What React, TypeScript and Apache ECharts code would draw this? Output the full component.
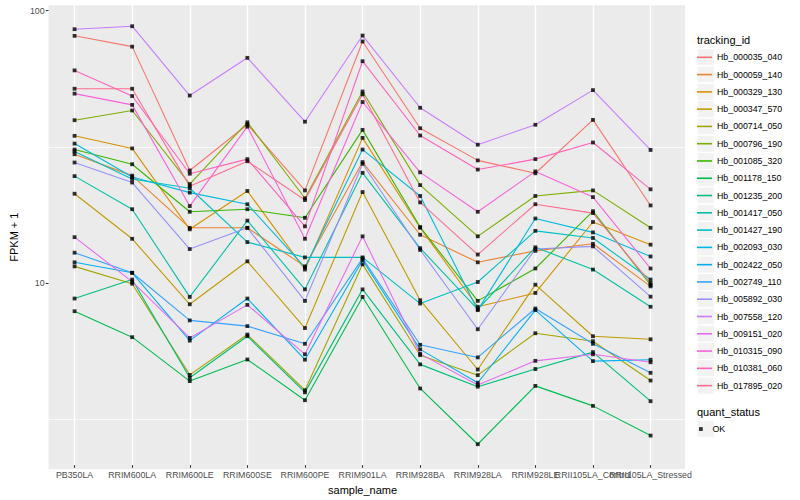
import React, { useEffect, useRef } from "react";
import * as echarts from "echarts";

const categories = [
  "PB350LA", "RRIM600LA", "RRIM600LE", "RRIM600SE", "RRIM600PE", "RRIM901LA",
  "RRIM928BA", "RRIM928LA", "RRIM928LE", "RRII105LA_Control", "RRII105LA_Stressed",
];

const trackingIds = [
  "Hb_000035_040", "Hb_000059_140", "Hb_000329_130", "Hb_000347_570", "Hb_000714_050",
  "Hb_000796_190", "Hb_001085_320", "Hb_001178_150", "Hb_001235_200", "Hb_001417_050",
  "Hb_001427_190", "Hb_002093_030", "Hb_002422_050", "Hb_002749_110", "Hb_005892_030",
  "Hb_007558_120", "Hb_009151_020", "Hb_010315_090", "Hb_010381_060", "Hb_017895_020",
];

const palette = [
  "#F8766D", "#EA8331", "#D89000", "#C09B00", "#A3A500", "#7CAE00", "#39B600", "#00BB4E",
  "#00BF7D", "#00C1A3", "#00BFC4", "#00BAE0", "#00B0F6", "#35A2FF", "#9590FF", "#C77CFF",
  "#E76BF3", "#FA62DB", "#FF62BC", "#FF6C91",
];

// FPKM + 1 per sample, in the order of `categories`
const hb_000035_040 = [80.7, 73.6, 25.6, 37.9, 21.6, 76.9, 36.7, 27.9, 25.0, 39.4, 19.0];
const hb_000059_140 = [29.4, 24.5, 15.7, 15.7, 11.3, 27.5, 14.8, 11.7, 12.9, 13.7, 9.53];
const hb_000329_130 = [34.4, 30.9, 15.5, 21.5, 11.0, 33.8, 15.7, 8.01, 9.01, 16.5, 13.6];
const hb_000347_570 = [21.0, 14.3, 8.18, 11.8, 6.68, 21.3, 8.47, 4.69, 9.67, 6.23, 6.07];
const hb_000714_050 = [11.3, 9.75, 4.48, 6.32, 3.93, 11.5, 5.3, 4.47, 6.39, 5.97, 4.27];
const hb_000796_190 = [39.3, 42.7, 22.8, 38.6, 20.2, 50.2, 22.6, 14.6, 20.6, 21.6, 15.7];
const hb_001085_320 = [30.6, 27.0, 18.0, 18.4, 17.1, 36.2, 15.8, 8.42, 11.1, 18.1, 9.64];
const hb_001178_150 = [7.71, 6.18, 4.25, 5.11, 3.61, 8.71, 3.99, 2.48, 4.08, 3.44, 2.67];
const hb_001235_200 = [8.59, 10.1, 4.37, 6.23, 3.86, 9.29, 4.9, 4.05, 4.71, 5.44, 3.58];
const hb_001417_050 = [24.4, 18.4, 8.71, 16.7, 9.29, 25.1, 13.2, 7.84, 13.3, 11.0, 8.01];
const hb_001427_190 = [30.1, 23.8, 22.0, 13.9, 12.2, 12.2, 8.23, 9.89, 15.3, 14.4, 10.1];
const hb_002093_030 = [32.2, 24.2, 21.2, 19.2, 11.2, 30.6, 20.6, 7.78, 17.0, 15.1, 12.3];
const hb_002422_050 = [11.7, 10.7, 6.0, 8.59, 5.1, 11.9, 5.57, 4.19, 7.78, 5.04, 5.1];
const hb_002749_110 = [12.7, 10.7, 7.13, 6.79, 5.84, 12.1, 5.79, 5.2, 7.89, 5.84, 4.56];
const hb_005892_030 = [27.4, 23.1, 13.1, 15.7, 8.42, 27.1, 13.0, 6.61, 13.1, 13.4, 8.73];
const hb_007558_120 = [85.4, 87.6, 48.5, 66.9, 38.8, 80.9, 43.7, 31.9, 37.8, 50.8, 30.5];
const hb_009151_020 = [14.5, 9.92, 6.14, 8.14, 5.34, 14.6, 5.36, 4.11, 5.05, 5.34, 4.99];
const hb_010315_090 = [49.3, 44.8, 18.9, 37.2, 14.3, 45.9, 25.2, 18.0, 25.4, 20.4, 11.1];
const hb_010381_060 = [60.1, 48.3, 24.9, 28.2, 15.9, 65.0, 34.5, 25.8, 28.2, 32.5, 21.8];
const hb_017895_020 = [51.4, 51.4, 22.4, 27.7, 19.9, 49.0, 19.5, 12.5, 19.2, 17.8, 9.81];

const seriesValues = [
  hb_000035_040, hb_000059_140, hb_000329_130, hb_000347_570, hb_000714_050,
  hb_000796_190, hb_001085_320, hb_001178_150, hb_001235_200, hb_001417_050,
  hb_001427_190, hb_002093_030, hb_002422_050, hb_002749_110, hb_005892_030,
  hb_007558_120, hb_009151_020, hb_010315_090, hb_010381_060, hb_017895_020,
];

const yTickValues = [10, 100];
const yMinorBreaks = [3.162, 31.62];
const yRange = [2.076, 104.7];
const quantStatus = ["OK"];

const FONT = "'Liberation Sans', Arial, Helvetica, sans-serif";

export default function App() {
  const ref = useRef<HTMLDivElement>(null);

  useEffect(() => {
    if (!ref.current) return;
    const chart = echarts.init(ref.current, undefined, { renderer: "svg" });

    const keyTop = 48.66;
    const keyStep = 17.28;
    const keyTop2 = 420.4;

    const graphics: any[] = [
      {
        type: "text",
        x: 697,
        y: 40.3,
        style: { text: "tracking_id", font: `11px ${FONT}`, fill: "#000000", verticalAlign: "middle", align: "left" },
      },
      {
        type: "text",
        x: 697,
        y: 412,
        style: { text: "quant_status", font: `11px ${FONT}`, fill: "#000000", verticalAlign: "middle", align: "left" },
      },
    ];
    trackingIds.forEach((_, i) => {
      graphics.push({
        type: "rect",
        shape: { x: 697, y: keyTop + keyStep * i, width: 17.28, height: 17.28 },
        style: { fill: "#F2F2F2", stroke: "#FFFFFF", lineWidth: 1.2 },
        silent: true,
      });
    });
    graphics.push({
      type: "rect",
      shape: { x: 697, y: keyTop2, width: 17.28, height: 17.28 },
      style: { fill: "#F2F2F2", stroke: "#FFFFFF", lineWidth: 1.2 },
      silent: true,
    });

    const lineSeries = trackingIds.map((name, i) => ({
      name,
      type: "line",
      xAxisIndex: 1,
      yAxisIndex: 1,
      data: seriesValues[i],
      color: palette[i],
      showSymbol: false,
      symbol: "none",
      lineStyle: { width: 1.1, color: palette[i] },
      z: 3,
      silent: true,
      emphasis: { disabled: true },
    }));

    const pointData: any[] = [];
    seriesValues.forEach((vals) => vals.forEach((v, j) => pointData.push([j, v])));

    const option: any = {
      animation: false,
      backgroundColor: "#FFFFFF",
      textStyle: { fontFamily: FONT },
      grid: [
        { left: 40, right: 115, top: 5.3, bottom: 31, show: true, backgroundColor: "#EBEBEB", borderWidth: 0 },
        { left: 74.56, right: 149.44, top: 5.3, bottom: 31, show: false },
      ],
      xAxis: [
        { gridIndex: 0, type: "value", min: 0, max: 1, show: false },
        {
          gridIndex: 1,
          type: "category",
          data: categories,
          boundaryGap: false,
          axisLine: { show: false },
          axisTick: { show: true, length: 2.75, lineStyle: { color: "#333333", width: 1 } },
          axisLabel: { interval: 0, margin: 5, fontSize: 8.8, color: "#4D4D4D", fontFamily: FONT },
          splitLine: { show: true, lineStyle: { color: "#FFFFFF", width: 1.4 } },
          name: "sample_name",
          nameLocation: "middle",
          nameGap: 15.5,
          nameTextStyle: { fontSize: 11, color: "#000000", fontFamily: FONT },
        },
      ],
      yAxis: [
        {
          gridIndex: 0,
          type: "log",
          logBase: 10,
          min: yRange[0],
          max: yRange[1],
          axisLine: { show: false },
          axisTick: { show: true, length: 2.75, customValues: yTickValues, lineStyle: { color: "#333333", width: 1 } },
          axisLabel: {
            margin: 4,
            fontSize: 8.8,
            color: "#4D4D4D",
            fontFamily: FONT,
            formatter: (v: number) => {
              const l = Math.log10(v);
              return Math.abs(l - Math.round(l)) < 1e-6 ? String(Math.round(v)) : "";
            },
          },
          splitLine: { show: true, showMinLine: false, showMaxLine: false, lineStyle: { color: "#FFFFFF", width: 1.4 } },
          name: "FPKM + 1",
          nameLocation: "middle",
          nameGap: 21,
          nameTextStyle: { fontSize: 11, color: "#000000", fontFamily: FONT },
        },
        { gridIndex: 1, type: "log", logBase: 10, min: yRange[0], max: yRange[1], show: false },
      ],
      legend: [
        {
          orient: "vertical",
          left: 697,
          top: keyTop,
          padding: 0,
          itemGap: 0,
          itemWidth: 15,
          itemHeight: 1.6,
          icon: "rect",
          selectedMode: false,
          data: trackingIds.map((n, i) => ({ name: n, itemStyle: { color: palette[i] } })),
          textStyle: { fontSize: 8.8, color: "#000000", lineHeight: 17.28, fontFamily: FONT },
        },
        {
          orient: "vertical",
          left: 699,
          top: keyTop2,
          padding: 0,
          itemGap: 0,
          itemWidth: 13,
          itemHeight: 3.8,
          icon: "path://M0 0L1 0L1 1L0 1Z",
          selectedMode: false,
          data: quantStatus.map((n) => ({ name: n, itemStyle: { color: "#000000" } })),
          textStyle: { fontSize: 8.8, color: "#000000", lineHeight: 17.28, fontFamily: FONT },
        },
      ],
      graphic: { elements: graphics },
      series: [
        {
          name: "minor-grid",
          type: "line",
          xAxisIndex: 0,
          yAxisIndex: 0,
          data: [],
          silent: true,
          z: 1,
          markLine: {
            silent: true,
            z: 1,
            animation: false,
            symbol: ["none", "none"],
            label: { show: false },
            lineStyle: { color: "#FFFFFF", width: 0.7, type: "solid" },
            data: yMinorBreaks.map((v) => ({ yAxis: v })),
          },
        },
        ...lineSeries,
        {
          name: quantStatus[0],
          type: "scatter",
          xAxisIndex: 1,
          yAxisIndex: 1,
          symbol: "rect",
          symbolSize: 3.8,
          itemStyle: { color: "#000000" },
          z: 4,
          silent: true,
          data: pointData,
        },
      ],
    };

    chart.setOption(option);
    return () => chart.dispose();
  }, []);

  return (
    <div
      ref={ref}
      style={{ position: "absolute", left: 0, top: 0, width: 800, height: 500 }}
    />
  );
}
